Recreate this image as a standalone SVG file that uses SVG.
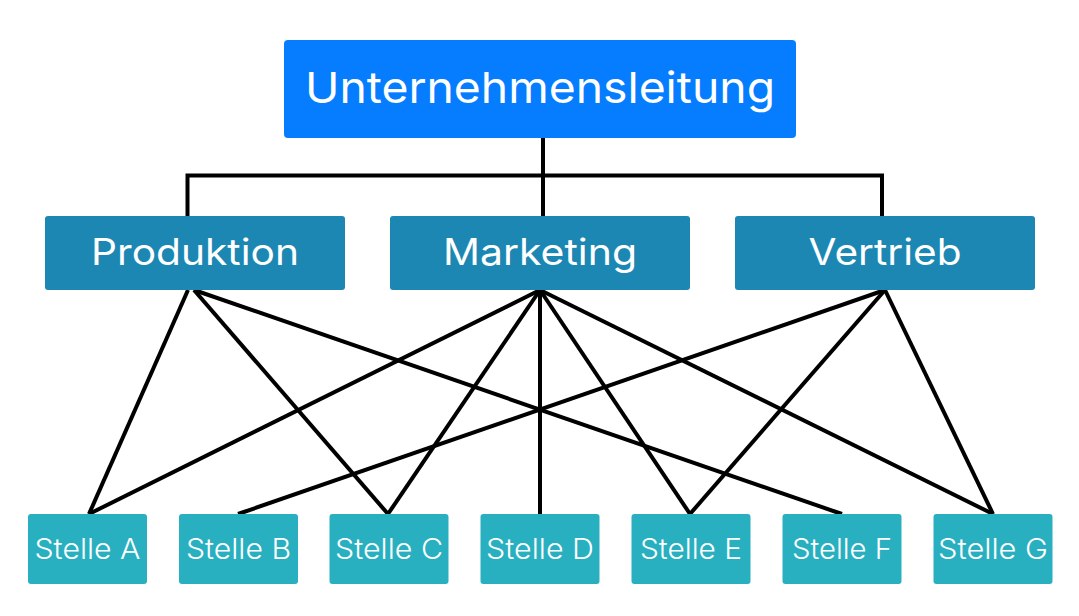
<svg xmlns="http://www.w3.org/2000/svg" width="1079" height="616" viewBox="0 0 1079 616">
<style>
.top{fill:#057DFE}
.mid{fill:#1C87B3}
.bot{fill:#28B0C1}
text{font-family:Inter,"Open Sans","Noto Sans",sans-serif;fill:#ffffff;text-anchor:middle}
.t1{font-size:43px}
.t2{font-size:37px}
.t3{font-size:28px;font-weight:300}
.c{stroke:#000;stroke-width:4;fill:none;stroke-linecap:butt}
</style>
<rect width="1079" height="616" fill="#ffffff"/>
<g id="connectors" class="c">
<path d="M543,138 V216"/>
<path d="M187.5,216 V175.5 H882 V216"/>
<line x1="188" y1="290" x2="89" y2="514"/>
<line x1="194" y1="290" x2="388" y2="514"/>
<line x1="194" y1="290" x2="842" y2="514"/>
<line x1="540" y1="290" x2="89" y2="514"/>
<line x1="540" y1="290" x2="388" y2="514"/>
<line x1="540" y1="290" x2="540" y2="514"/>
<line x1="540" y1="290" x2="690" y2="514"/>
<line x1="540" y1="290" x2="993" y2="514"/>
<line x1="885" y1="290" x2="238" y2="514"/>
<line x1="885" y1="290" x2="690" y2="514"/>
<line x1="885" y1="290" x2="993" y2="514"/>
</g>
<g id="unternehmensleitung"><rect class="top" x="284" y="40" width="512" height="98" rx="4"/><text class="t1" x="540" y="103" textLength="470" lengthAdjust="spacingAndGlyphs">Unternehmensleitung</text></g>
<g id="produktion"><rect class="mid" x="45" y="216" width="300" height="74" rx="3"/><text class="t2" x="195" y="265" textLength="208" lengthAdjust="spacingAndGlyphs">Produktion</text></g>
<g id="marketing"><rect class="mid" x="390" y="216" width="300" height="74" rx="3"/><text class="t2" x="540" y="265" textLength="194" lengthAdjust="spacingAndGlyphs">Marketing</text></g>
<g id="vertrieb"><rect class="mid" x="735" y="216" width="300" height="74" rx="3"/><text class="t2" x="885" y="265" textLength="153" lengthAdjust="spacingAndGlyphs">Vertrieb</text></g>
<g id="stelle-a"><rect class="bot" x="28" y="514" width="119" height="70" rx="3"/><text class="t3" x="87.5" y="559" textLength="106" lengthAdjust="spacingAndGlyphs">Stelle A</text></g>
<g id="stelle-b"><rect class="bot" x="179" y="514" width="119" height="70" rx="3"/><text class="t3" x="238.5" y="559" textLength="105" lengthAdjust="spacingAndGlyphs">Stelle B</text></g>
<g id="stelle-c"><rect class="bot" x="329.5" y="514" width="119" height="70" rx="3"/><text class="t3" x="389" y="559" textLength="108" lengthAdjust="spacingAndGlyphs">Stelle C</text></g>
<g id="stelle-d"><rect class="bot" x="480.5" y="514" width="119" height="70" rx="3"/><text class="t3" x="540" y="559" textLength="108" lengthAdjust="spacingAndGlyphs">Stelle D</text></g>
<g id="stelle-e"><rect class="bot" x="631.5" y="514" width="119" height="70" rx="3"/><text class="t3" x="691" y="559" textLength="102" lengthAdjust="spacingAndGlyphs">Stelle E</text></g>
<g id="stelle-f"><rect class="bot" x="782.5" y="514" width="119" height="70" rx="3"/><text class="t3" x="842" y="559" textLength="100" lengthAdjust="spacingAndGlyphs">Stelle F</text></g>
<g id="stelle-g"><rect class="bot" x="933.5" y="514" width="119" height="70" rx="3"/><text class="t3" x="993" y="559" textLength="110" lengthAdjust="spacingAndGlyphs">Stelle G</text></g>
</svg>
